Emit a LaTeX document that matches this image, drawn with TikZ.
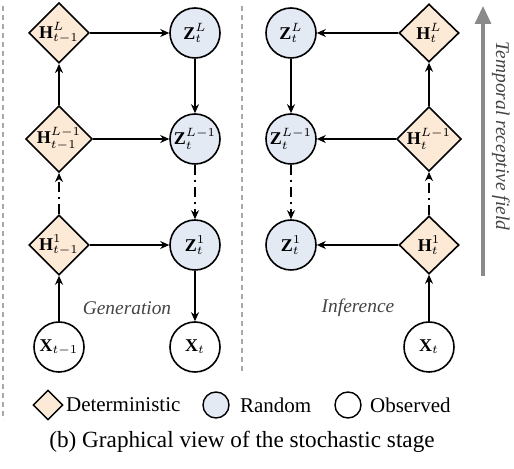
\documentclass[tikz,border=0pt]{standalone}
\usepackage{fontspec}
\setmainfont{Liberation Serif}
\usetikzlibrary{positioning, arrows.meta, shapes.geometric}
\definecolor{DetFill}{HTML}{FDEAD6}
\definecolor{RandFill}{HTML}{E3EAF4}
\definecolor{Sep}{HTML}{A8A8A8}
\definecolor{Axis}{HTML}{8A8A8A}
\definecolor{Note}{HTML}{444444}

\begin{document}
\begin{tikzpicture}[
    x=0.5pt, y=-0.5pt,
    det/.style={diamond, draw=black, line width=0.8pt, fill=DetFill, inner sep=0pt, minimum width=30pt, minimum height=29pt, font=\small},
    rand/.style={circle, draw=black, line width=0.8pt, fill=RandFill, inner sep=0pt, minimum size=25pt, font=\small},
    obs/.style={circle, draw=black, line width=0.8pt, fill=white, inner sep=0pt, minimum size=25pt, font=\small},
    arr/.style={-{Stealth[length=4.5pt, width=4pt]}, line width=0.8pt},
    dotarr/.style={arr, dash pattern=on 5pt off 2.5pt on 1pt off 2.5pt},
    sep/.style={draw=Sep, line width=0.6pt, dash pattern=on 2.5pt off 2pt},
    note/.style={text=Note, font=\fontsize{9.7}{11}\selectfont\itshape},
    legtext/.style={font=\fontsize{10.5}{12}\selectfont, inner sep=1pt},
    every node/.style={font=\small}
]
\useasboundingbox (0,0) rectangle (514,469);

% generation
\node[det] (hL) at (59,33) {$\mathbf{H}^{L}_{t-1}$};
\node[det] (hLm) at (59,139) {$\mathbf{H}^{L-1}_{t-1}$};
\node[det] (h1) at (59,245) {$\mathbf{H}^{1}_{t-1}$};
\node[obs] (xp) at (59,347) {$\mathbf{X}_{t-1}$};
\node[rand] (zL) at (195,33) {$\mathbf{Z}^{L}_{t}$};
\node[rand] (zLm) at (195,139) {$\mathbf{Z}^{L-1}_{t}$};
\node[rand] (z1) at (195,245) {$\mathbf{Z}^{1}_{t}$};
\node[obs] (xt) at (195,347) {$\mathbf{X}_{t}$};
\node[note] (gen) at (127,308) {Generation};

\draw[arr] (xp) -- (h1);
\draw[dotarr] (h1) -- (hLm);
\draw[arr] (hLm) -- (hL);
\draw[arr] (hL) -- (zL);
\draw[arr] (hLm) -- (zLm);
\draw[arr] (h1) -- (z1);
\draw[arr] (zL) -- (zLm);
\draw[dotarr] (zLm) -- (z1);
\draw[arr] (z1) -- (xt);

% inference
\node[rand] (qL) at (291,33) {$\mathbf{Z}^{L}_{t}$};
\node[rand] (qLm) at (291,139) {$\mathbf{Z}^{L-1}_{t}$};
\node[rand] (q1) at (291,245) {$\mathbf{Z}^{1}_{t}$};
\node[det] (gL) at (429,33) {$\mathbf{H}^{L}_{t}$};
\node[det] (gLm) at (429,139) {$\mathbf{H}^{L-1}_{t}$};
\node[det] (g1) at (429,245) {$\mathbf{H}^{1}_{t}$};
\node[obs] (xi) at (429,347) {$\mathbf{X}_{t}$};
\node[note] (inf) at (358,308) {Inference};

\draw[arr] (xi) -- (g1);
\draw[dotarr] (g1) -- (gLm);
\draw[arr] (gLm) -- (gL);
\draw[arr] (gL) -- (qL);
\draw[arr] (gLm) -- (qLm);
\draw[arr] (g1) -- (q1);
\draw[arr] (qL) -- (qLm);
\draw[dotarr] (qLm) -- (q1);

% separators
\coordinate (s1a) at (3,6);
\coordinate (s1b) at (3,420);
\coordinate (s2a) at (242,6);
\coordinate (s2b) at (242,374);
\draw[sep] (s1a) -- (s1b);
\draw[sep] (s2a) -- (s2b);

% temporal axis
\coordinate (ta) at (483,276);
\coordinate (tb) at (483,6);
\draw[-{Triangle[length=9pt, width=8pt]}, draw=Axis, fill=Axis, line width=1.6pt] (ta) -- (tb);
\node[rotate=-90, note] (trf) at (501,136) {Temporal receptive field};

% legend
\node[diamond, draw=black, line width=0.7pt, fill=DetFill, inner sep=0pt, minimum width=15pt, minimum height=15pt] (ldet) at (48,405) {};
\node[right=0pt of ldet, legtext] (tdet) {Deterministic};
\node[circle, draw=black, line width=0.7pt, fill=RandFill, inner sep=0pt, minimum size=13pt] (lrand) at (216,405) {};
\node[right=4pt of lrand, legtext] (trand) {Random};
\node[circle, draw=black, line width=0.7pt, fill=white, inner sep=0pt, minimum size=13pt] (lobs) at (348,405) {};
\node[right=3pt of lobs, legtext] (tobs) {Observed};

\node[font=\fontsize{11.6}{13}\selectfont] (cap) at (242,442) {(b) Graphical view of the stochastic stage};

\end{tikzpicture}
\end{document}
